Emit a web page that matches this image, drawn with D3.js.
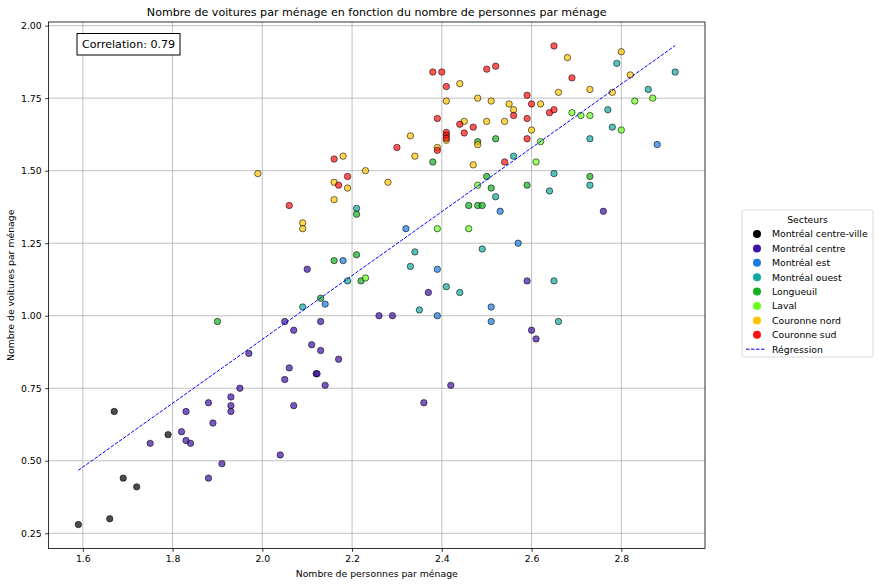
<!DOCTYPE html>
<html><head><meta charset="utf-8">
<script src="https://cdn.jsdelivr.net/npm/d3@7"></script>
<style>body{margin:0;background:#fff;} text{font-family:"DejaVu Sans",sans-serif;}</style>
</head><body>
<svg id="c" width="880" height="584"></svg>
<script>
const secteurs = ["Montréal centre-ville","Montréal centre","Montréal est","Montréal ouest","Longueuil","Laval","Couronne nord","Couronne sud"];
const couleurs = ["#000000","#4010a8","#1a7ae0","#10a89e","#10b020","#6aff20","#ffc400","#ff1010"];

// points: [personnes, voitures] per sector
const centreVille = [[1.59,0.28],[1.66,0.30],[1.67,0.67],[1.69,0.44],[1.72,0.41],[1.79,0.59]];
const centre = [[1.75,0.56],[1.82,0.60],[1.83,0.67],[1.83,0.57],[1.84,0.56],[1.88,0.70],[1.89,0.63],[1.88,0.44],[1.91,0.49],[1.93,0.72],[1.93,0.69],[1.93,0.67],[1.95,0.75],[1.97,0.87],[2.04,0.52],[2.05,0.98],[2.05,0.78],[2.06,0.82],[2.10,1.16],[2.07,0.95],[2.13,0.98],[2.11,0.90],[2.13,0.88],[2.17,0.85],[2.12,0.80],[2.122,0.80],[2.14,0.76],[2.07,0.69],[2.26,1.00],[2.29,1.00],[2.37,1.08],[2.42,0.76],[2.36,0.70],[2.76,1.36],[2.59,1.12],[2.60,0.95],[2.61,0.92]];
const est = [[2.18,1.19],[2.14,1.04],[2.32,1.30],[2.39,1.16],[2.39,1.00],[2.51,1.03],[2.51,0.98],[2.53,1.36],[2.57,1.25],[2.88,1.59]];
const ouest = [[2.21,1.37],[2.19,1.12],[2.09,1.03],[2.34,1.22],[2.33,1.17],[2.41,1.10],[2.44,1.08],[2.35,1.02],[2.49,1.23],[2.52,1.41],[2.65,1.12],[2.66,0.98],[2.56,1.55],[2.65,1.49],[2.64,1.43],[2.79,1.87],[2.92,1.84],[2.86,1.78],[2.77,1.71],[2.78,1.65],[2.73,1.61],[2.73,1.45]];
const longueuil = [[1.90,0.98],[2.16,1.19],[2.21,1.21],[2.22,1.12],[2.13,1.06],[2.21,1.35],[2.38,1.53],[2.48,1.60],[2.52,1.61],[2.50,1.48],[2.51,1.44],[2.46,1.38],[2.48,1.38],[2.49,1.38],[2.59,1.45],[2.73,1.48]];
const laval = [[2.23,1.13],[2.39,1.30],[2.46,1.30],[2.48,1.45],[2.61,1.53],[2.62,1.60],[2.69,1.70],[2.71,1.69],[2.73,1.69],[2.80,1.64],[2.83,1.74],[2.87,1.75]];
const couronneNord = [[1.99,1.49],[2.09,1.32],[2.09,1.30],[2.18,1.55],[2.16,1.46],[2.19,1.44],[2.16,1.40],[2.23,1.50],[2.28,1.46],[2.33,1.62],[2.34,1.55],[2.41,1.74],[2.44,1.80],[2.41,1.605],[2.39,1.58],[2.45,1.67],[2.48,1.75],[2.51,1.74],[2.50,1.67],[2.48,1.59],[2.47,1.52],[2.68,1.89],[2.80,1.91],[2.82,1.83],[2.73,1.78],[2.66,1.77],[2.78,1.77],[2.55,1.73],[2.62,1.73],[2.56,1.71],[2.54,1.67],[2.60,1.64]];
const couronneSud = [[2.06,1.38],[2.16,1.54],[2.17,1.45],[2.19,1.48],[2.30,1.58],[2.38,1.84],[2.40,1.84],[2.41,1.79],[2.39,1.68],[2.41,1.632],[2.41,1.622],[2.41,1.612],[2.39,1.57],[2.44,1.66],[2.45,1.63],[2.47,1.65],[2.50,1.85],[2.52,1.86],[2.54,1.53],[2.65,1.93],[2.69,1.82],[2.59,1.76],[2.60,1.73],[2.56,1.69],[2.64,1.70],[2.65,1.71],[2.59,1.68],[2.59,1.61]];
const groupes = [centreVille, centre, est, ouest, longueuil, laval, couronneNord, couronneSud];

const regPersonnes = [1.59, 2.92];
const regVoitures = [0.467, 1.931];
const correlationTexte = "Correlation: 0.79";
const xTicks = [1.6,1.8,2.0,2.2,2.4,2.6,2.8];
const yTicks = [0.25,0.50,0.75,1.00,1.25,1.50,1.75,2.00];

const svg = d3.select("#c");
const L = 48.5, R = 705, T = 22, B = 548.5;
const FS = 9.3, FT = 11.1;

const allPts = groupes.flat();
const xe = d3.extent(allPts, d => d[0]), ye = d3.extent(allPts, d => d[1]);
const xm = (xe[1]-xe[0])*0.05, ym = (ye[1]-ye[0])*0.05;
const x = d3.scaleLinear().domain([xe[0]-xm, xe[1]+xm]).range([L, R]);
const y = d3.scaleLinear().domain([ye[0]-ym, ye[1]+ym]).range([B, T]);

// grid
const g = svg.append("g");
g.selectAll(".gx").data(xTicks).join("line")
  .attr("x1", d => x(d)).attr("x2", d => x(d)).attr("y1", T).attr("y2", B)
  .attr("stroke", "#b0b0b0").attr("stroke-width", 0.8);
g.selectAll(".gy").data(yTicks).join("line")
  .attr("y1", d => y(d)).attr("y2", d => y(d)).attr("x1", L).attr("x2", R)
  .attr("stroke", "#b0b0b0").attr("stroke-width", 0.8);

// points
groupes.forEach((pts, i) => {
  svg.append("g").selectAll("circle").data(pts).join("circle")
    .attr("cx", d => x(d[0])).attr("cy", d => y(d[1])).attr("r", 3.2)
    .attr("fill", couleurs[i]).attr("fill-opacity", 0.7)
    .attr("stroke", "#000").attr("stroke-opacity", 0.7).attr("stroke-width", 0.8);
});

// regression line
svg.append("path")
  .attr("d", d3.line()([[x(regPersonnes[0]), y(regVoitures[0])],[x(regPersonnes[1]), y(regVoitures[1])]]))
  .attr("stroke", "#0000ff").attr("stroke-width", 1).attr("stroke-dasharray", "3.5,1.5").attr("fill", "none");

// frame
svg.append("rect").attr("x", L).attr("y", T).attr("width", R-L).attr("height", B-T)
  .attr("fill", "none").attr("stroke", "#000").attr("stroke-width", 0.8);

// axes
const xa = svg.append("g").attr("transform", `translate(0,${B})`)
  .call(d3.axisBottom(x).tickValues(xTicks).tickFormat(d3.format(".1f")).tickSize(3.3).tickPadding(3.5));
const ya = svg.append("g").attr("transform", `translate(${L},0)`)
  .call(d3.axisLeft(y).tickValues(yTicks).tickFormat(d3.format(".2f")).tickSize(3.3).tickPadding(3.5));
[xa, ya].forEach(a => {
  a.select(".domain").remove();
  a.selectAll("text").attr("font-size", FS).attr("fill", "#000").style("font-family", "DejaVu Sans");
  a.selectAll("line").attr("stroke", "#000").attr("stroke-width", 0.8);
});

// labels
svg.append("text").attr("x", (L+R)/2).attr("y", 16).attr("text-anchor", "middle")
  .attr("font-size", FT).text("Nombre de voitures par ménage en fonction du nombre de personnes par ménage");
svg.append("text").attr("x", (L+R)/2).attr("y", 576.5).attr("text-anchor", "middle")
  .attr("font-size", FS).text("Nombre de personnes par ménage");
svg.append("text").attr("transform", `translate(14,${(T+B)/2}) rotate(-90)`).attr("text-anchor", "middle")
  .attr("font-size", FS).text("Nombre de voitures par ménage");

// correlation box
const cb = svg.append("g");
cb.append("rect").attr("x", 77).attr("y", 33.5).attr("width", 103).attr("height", 21.5)
  .attr("fill", "#fff").attr("stroke", "#000").attr("stroke-width", 1);
cb.append("text").attr("x", 82).attr("y", 48.3).attr("font-size", FT).text(correlationTexte);

// legend
const lg = svg.append("g");
lg.append("rect").attr("x", 742).attr("y", 210).attr("width", 131).attr("height", 147).attr("rx", 2)
  .attr("fill", "#fff").attr("stroke", "#d0d0d0").attr("stroke-width", 0.8);
lg.append("text").attr("x", 807.5).attr("y", 222.5).attr("text-anchor", "middle").attr("font-size", FS).text("Secteurs");
const step = 14.4, y0 = 234;
secteurs.forEach((s, i) => {
  lg.append("circle").attr("cx", 757).attr("cy", y0 + i*step).attr("r", 4).attr("fill", couleurs[i]);
  lg.append("text").attr("x", 772).attr("y", y0 + i*step + 3.4).attr("font-size", FS).text(s);
});
const ry = y0 + secteurs.length*step;
lg.append("line").attr("x1", 746).attr("x2", 766).attr("y1", ry).attr("y2", ry)
  .attr("stroke", "#0000ff").attr("stroke-width", 1).attr("stroke-dasharray", "3.5,1.5");
lg.append("text").attr("x", 772).attr("y", ry + 3.4).attr("font-size", FS).text("Régression");
</script>
</body></html>
